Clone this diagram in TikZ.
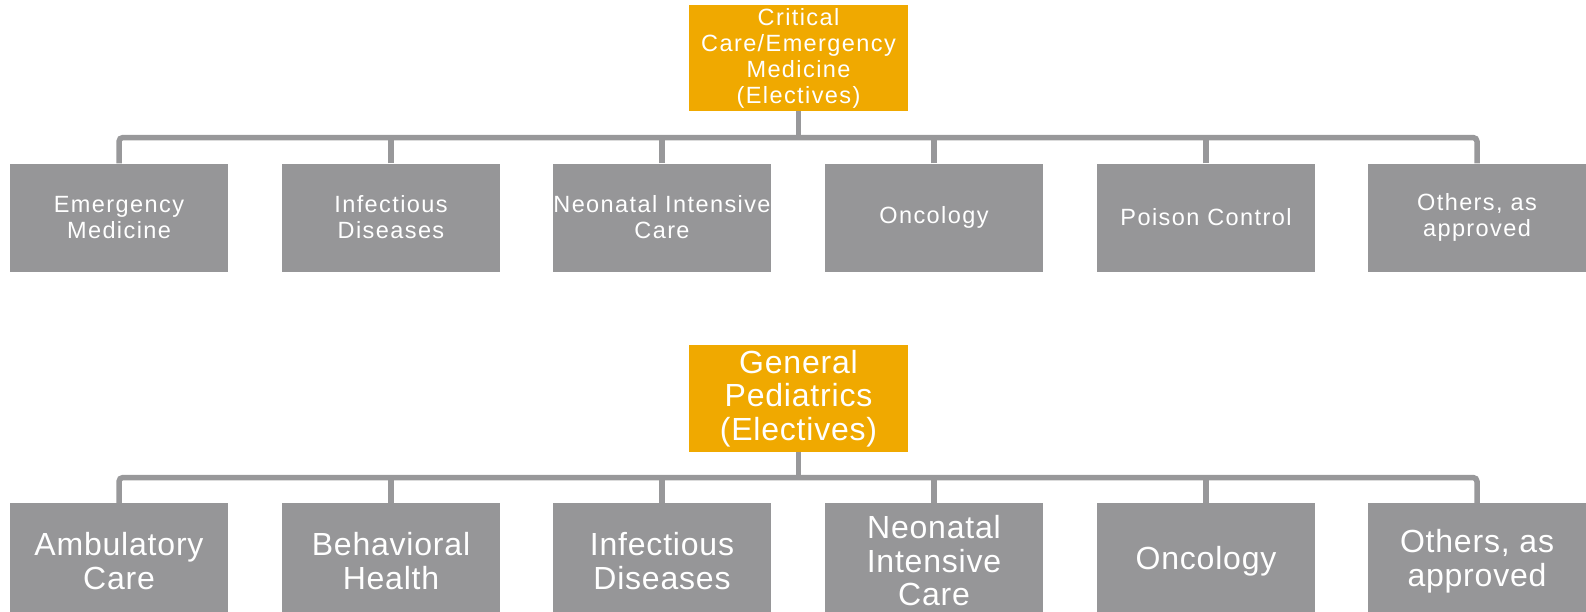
\documentclass[tikz,border=0pt]{standalone}
\usepackage{fontspec}
\setmainfont{Liberation Sans}
\definecolor{gold}{RGB}{240,169,0}
\definecolor{boxgray}{RGB}{150,150,152}
\definecolor{linegray}{RGB}{152,152,154}
\tikzset{
  rootbox/.style={fill=gold, text=white, minimum width=219pt, inner sep=0pt, align=center},
  childbox/.style={fill=boxgray, text=white, minimum width=218pt, minimum height=108pt, inner sep=0pt, align=center},
  smallfont/.style={font=\fontsize{23.5}{26}\selectfont\addfontfeatures{LetterSpace=6}},
  bigfont/.style={font=\fontsize{32}{33.5}\selectfont\addfontfeatures{LetterSpace=2.5}},
  conn/.style={draw=linegray, line width=5.5pt, rounded corners=4pt}
}
\begin{document}
\begin{tikzpicture}[x=1pt,y=-1pt]
\useasboundingbox (0,0) rectangle (1586,611);
% upper tree
\node[rootbox, smallfont, minimum height=106pt] (r1) at (798.5,58) {Critical\\Care/Emergency\\Medicine\\(Electives)};
\coordinate (b1) at (0,137.5);
\node[childbox, smallfont] (c11) at (119,217.5) {Emergency\\Medicine};
\node[childbox, smallfont] (c12) at (391,217.5) {Infectious\\Diseases};
\node[childbox, smallfont] (c13) at (662,217.5) {Neonatal Intensive\\Care};
\node[childbox, smallfont] (c14) at (934,217.5) {Oncology};
\node[childbox, smallfont] (c15) at (1206,217.5) {Poison Control};
\node[childbox, smallfont] (c16) at (1477,217.5) {Others, as\\approved};
\draw[conn] (c11.north) -- (c11.north |- b1) -- (c16.north |- b1) -- (c16.north);
\draw[conn] (r1.south) -- (r1.south |- b1);
\foreach \c in {c12,c13,c14,c15} \draw[conn] (\c.north) -- (\c.north |- b1);
% lower tree
\node[rootbox, bigfont, minimum height=107pt] (r2) at (798.5,398.5) {General\\Pediatrics\\(Electives)};
\coordinate (b2) at (0,477.5);
\tikzset{lowrow/.style={childbox, bigfont, minimum height=116pt}}
\node[lowrow] (c21) at (119,561) {Ambulatory\\Care};
\node[lowrow] (c22) at (391,561) {Behavioral\\Health};
\node[lowrow] (c23) at (662,561) {Infectious\\Diseases};
\node[lowrow] (c24) at (934,561) {Neonatal\\Intensive\\Care};
\node[lowrow] (c25) at (1206,561) {Oncology};
\node[lowrow] (c26) at (1477,561) {Others, as\\approved};
\draw[conn] (c21.north) -- (c21.north |- b2) -- (c26.north |- b2) -- (c26.north);
\draw[conn] (r2.south) -- (r2.south |- b2);
\foreach \c in {c22,c23,c24,c25} \draw[conn] (\c.north) -- (\c.north |- b2);
\end{tikzpicture}
\end{document}
